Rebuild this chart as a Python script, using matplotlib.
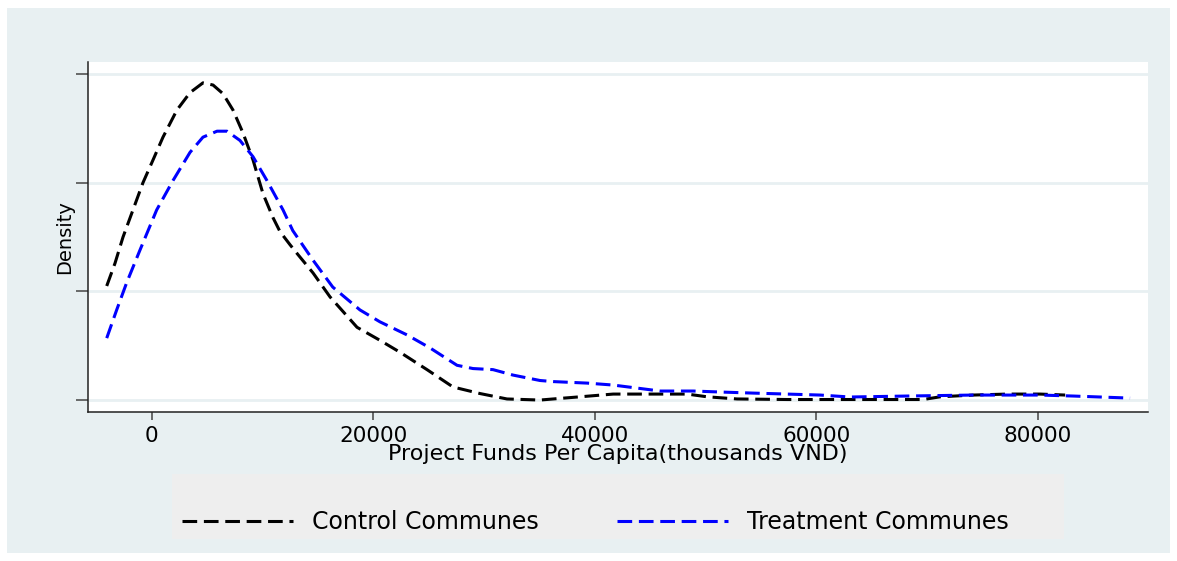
import matplotlib
matplotlib.use('Agg')
import matplotlib.pyplot as plt
from matplotlib.patches import Rectangle
from matplotlib.lines import Line2D

# kernel density of project funds per capita (density in units of 1e-5)
control_x = [-4060, -3310, -2590, -1690, -790, 120, 1020, 2280, 3460, 4630,
             5540, 6440, 7340, 8240, 9150, 10050, 10950, 11590, 12490, 13120,
             14570, 16100, 18540, 20610, 22420, 24860, 27210, 29640, 32080, 35060,
             36250, 38690, 41670, 45280, 48350, 50150, 52860, 57380, 63070, 69660,
             71200, 74180, 77240, 80220, 82480]
control_y = [1.05, 1.26, 1.50, 1.75, 2.00, 2.21, 2.42, 2.67, 2.83, 2.92,
             2.90, 2.82, 2.67, 2.46, 2.21, 1.90, 1.68, 1.55, 1.43, 1.35,
             1.17, 0.95, 0.67, 0.55, 0.44, 0.28, 0.12, 0.06, 0.01, 0.0,
             0.01, 0.03, 0.055, 0.055, 0.055, 0.03, 0.01, 0.005, 0.005, 0.005,
             0.03, 0.046, 0.055, 0.055, 0.046]

treat_x = [-4060, -3160, -2260, -1060, 450, 1920, 3460, 4630, 5900, 6800,
           7970, 9150, 10410, 11860, 12740, 14550, 16350, 18800, 20610, 23050,
           25130, 27570, 29010, 30820, 32620, 35060, 36250, 39320, 41670, 43840,
           45910, 48900, 51330, 54310, 57380, 60360, 63070, 68220, 74180, 80220,
           83200, 88340]
treat_y = [0.57, 0.83, 1.08, 1.38, 1.75, 2.02, 2.28, 2.42, 2.475, 2.475,
           2.39, 2.24, 2.02, 1.75, 1.56, 1.29, 1.04, 0.83, 0.72, 0.60,
           0.48, 0.32, 0.29, 0.28, 0.23, 0.18, 0.17, 0.156, 0.138, 0.11,
           0.083, 0.083, 0.074, 0.064, 0.055, 0.046, 0.028, 0.037, 0.046, 0.046,
           0.037, 0.018]

x_ticks = [0, 20000, 40000, 60000, 80000]
y_ticks = [0, 1, 2, 3]
labels = ['Control Communes', 'Treatment Communes']

plt.rcParams['font.family'] = ['DejaVu Sans']

W, H = 1177, 561
fig = plt.figure(figsize=(W / 100, H / 100), dpi=100)
fig.patch.set_facecolor('white')

# stata-like graph region and legend region
bg = '#E8F0F2'
fig.patches.append(Rectangle((7 / W, 8 / H), 1163 / W, 545 / H, transform=fig.transFigure,
                             facecolor=bg, edgecolor='none', zorder=-2))
fig.patches.append(Rectangle((172 / W, 22 / H), 892 / W, 65 / H, transform=fig.transFigure,
                             facecolor='#EEEEEE', edgecolor='none', zorder=-1))

ax = fig.add_axes([88 / W, 1 - 412 / H, (1148 - 88) / W, (412 - 62) / H])
ax.set_zorder(1)
ax.set_facecolor('white')

dash = (4.8, 2.2)
ax.plot(control_x, control_y, color='black', lw=2.2, dashes=dash, zorder=3)
ax.plot(treat_x, treat_y, color='#0000FF', lw=2.2, dashes=dash, zorder=3)

ax.set_xlim(-5750, 89960)
ax.set_ylim(-0.11, 3.112)
ax.set_xticks(x_ticks)
ax.set_xticklabels([str(v) for v in x_ticks])
ax.set_yticks(y_ticks)
ax.set_yticklabels([''] * len(y_ticks))
ax.yaxis.grid(True, color=bg, lw=2)
ax.set_axisbelow(True)

for s in ['top', 'right']:
    ax.spines[s].set_visible(False)
for s in ['left', 'bottom']:
    ax.spines[s].set_color('#222222')
    ax.spines[s].set_linewidth(1.1)
ax.tick_params(axis='y', length=8.6, width=1.1, color='#444444')
ax.tick_params(axis='x', length=5.8, width=1.1, color='#444444', labelsize=15.5, pad=4)

ax.set_xlabel('Project Funds Per Capita(thousands VND)', fontsize=16, labelpad=-1)
ax.set_ylabel('Density', fontsize=14, labelpad=-2)

# legend entries laid out in the gray legend region
h1 = Line2D([], [], color='black', lw=2.2, dashes=dash)
h2 = Line2D([], [], color='#0000FF', lw=2.2, dashes=dash)
for h, lab, x0 in [(h1, labels[0], 182), (h2, labels[1], 617)]:
    fig.legend([h], [lab], loc='center left', bbox_to_anchor=(x0 / W, 39 / H),
               frameon=False, fontsize=17, handlelength=4.7, handletextpad=0.8,
               borderpad=0, borderaxespad=0)

plt.savefig('out.png', dpi=100, facecolor=fig.get_facecolor())
plt.close()
